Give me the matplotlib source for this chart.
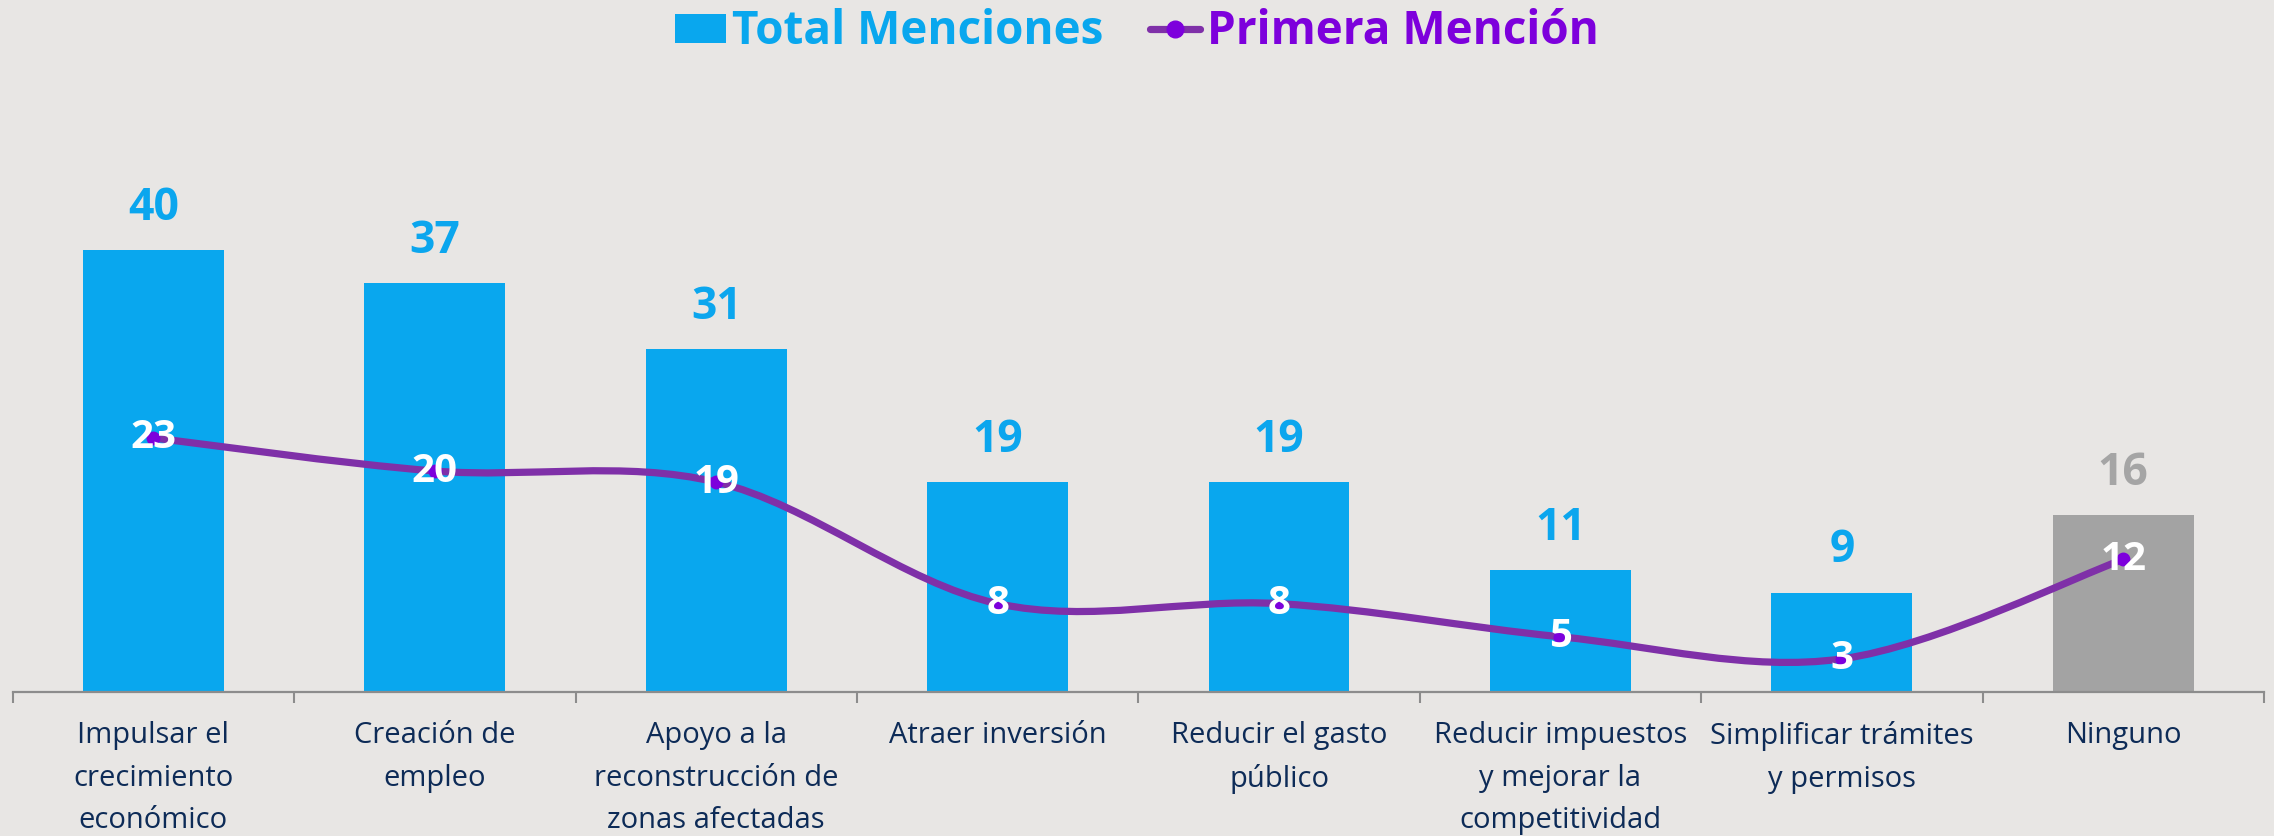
import matplotlib
matplotlib.use("Agg")
import matplotlib.pyplot as plt
from matplotlib.path import Path
from matplotlib.patches import PathPatch, Patch
from matplotlib.lines import Line2D
import numpy as np

categories = [
    "Impulsar el\ncrecimiento\neconómico",
    "Creación de\nempleo",
    "Apoyo a la\nreconstrucción de\nzonas afectadas",
    "Atraer inversión",
    "Reducir el gasto\npúblico",
    "Reducir impuestos\ny mejorar la\ncompetitividad",
    "Simplificar trámites\ny permisos",
    "Ninguno",
]
total_menciones = [40, 37, 31, 19, 19, 11, 9, 16]
primera_mencion = [23, 20, 19, 8, 8, 5, 3, 12]
series_names = ["Total Menciones", "Primera Mención"]

BG = "#e8e6e4"
BLUE = "#09a7ee"
GRAY = "#a3a3a3"
LINE = "#7f30a8"
DOT = "#7d00dc"
NAVY = "#0d2b57"
FONT = ["Open Sans", "DejaVu Sans"]

plt.rcParams["font.family"] = FONT

fig = plt.figure(figsize=(22.74, 8.36), dpi=100, facecolor=BG)
ax = fig.add_axes([0.00558, 0.1722, 0.99, 0.6609])
ax.set_facecolor(BG)

x = np.arange(len(categories))
bar_colors = [BLUE] * (len(categories) - 1) + [GRAY]
ax.bar(x, total_menciones, width=0.5, color=bar_colors, zorder=2)

for xi, v, c in zip(x, total_menciones, bar_colors):
    ax.annotate(str(v), (xi, v), xytext=(0, 14), textcoords="offset points",
                ha="center", va="bottom", fontsize=32, fontweight="bold",
                color="#0ba6ee" if c == BLUE else "#a5a5a5")

# smoothed line (Catmull-Rom -> cubic Bezier), like the spreadsheet "smooth line"
pts = np.column_stack([x, primera_mencion]).astype(float)
ext = np.vstack([pts[0], pts, pts[-1]])
verts = [tuple(pts[0])]
codes = [Path.MOVETO]
for i in range(1, len(ext) - 2):
    p0, p1, p2, p3 = ext[i - 1], ext[i], ext[i + 1], ext[i + 2]
    c1 = p1 + (p2 - p0) / 6.0
    c2 = p2 - (p3 - p1) / 6.0
    verts += [tuple(c1), tuple(c2), tuple(p2)]
    codes += [Path.CURVE4] * 3
ax.add_patch(PathPatch(Path(verts, codes), facecolor="none", edgecolor=LINE,
                       lw=5.2, capstyle="round", zorder=3))
ax.plot(x, primera_mencion, ls="none", marker="o", ms=9, color=DOT, zorder=4)

for xi, v in zip(x, primera_mencion):
    ax.text(xi, v, str(v), ha="center", va="center", fontsize=29,
            fontweight="bold", color="white", zorder=5)

ax.set_xlim(-0.5, len(categories) - 0.5)
ax.set_ylim(0, 50)
ax.set_yticks([])
for s in ("left", "right", "top"):
    ax.spines[s].set_visible(False)
ax.spines["bottom"].set_color("#8c8c8c")
ax.spines["bottom"].set_linewidth(1.6)

ax.set_xticks(x)
ax.set_xticklabels(categories, fontsize=21, color=NAVY, linespacing=1.62)
ax.tick_params(axis="x", which="major", length=0, pad=21)
ax.set_xticks(np.arange(-0.5, len(categories), 1.0), minor=True)
ax.tick_params(axis="x", which="minor", length=8, width=1.5, color="#8c8c8c",
               direction="out")

handles = [
    Patch(facecolor=BLUE, edgecolor="none"),
    Line2D([0], [0], color=LINE, lw=5.2, marker="o", ms=12, mfc=DOT,
           mec=DOT, solid_capstyle="round"),
]
leg = fig.legend(handles, series_names, loc="center",
                 bbox_to_anchor=(0.5, 1 - 32 / 836), ncol=2, frameon=False,
                 prop={"family": FONT, "size": 33, "weight": "bold"},
                 handlelength=1.1, handleheight=0.62, handletextpad=0.15,
                 columnspacing=1.0, labelcolor=[BLUE, DOT])

fig.savefig("out.png", dpi=100, facecolor=BG)
